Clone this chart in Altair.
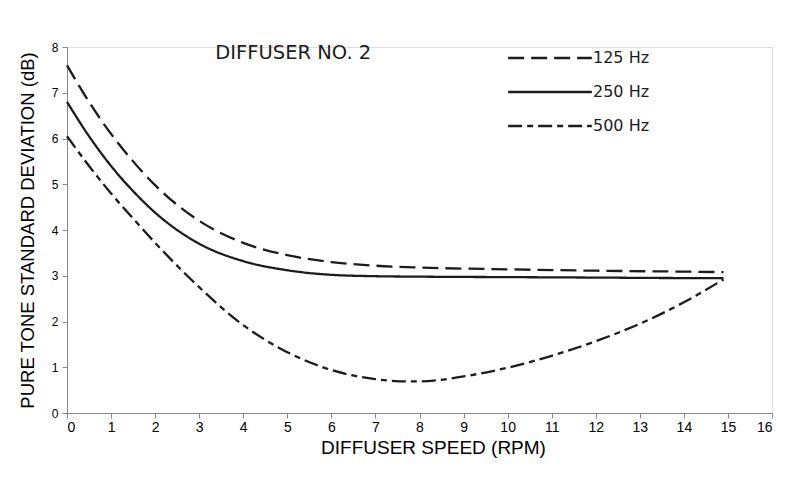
import altair as alt
import pandas as pd

# Data
series = ["125 Hz", "250 Hz", "500 Hz"]

x125 = [0, 0.5, 1, 1.5, 2, 3, 4, 5, 6, 7, 8, 10, 12, 14, 14.9]
y125 = [7.6, 6.8, 6.1, 5.5, 4.98, 4.2, 3.72, 3.45, 3.3, 3.22, 3.18, 3.14, 3.11, 3.09, 3.08]

x250 = [0, 0.5, 1, 1.5, 2, 3, 4, 5, 6, 7, 8, 10, 12, 14, 14.9]
y250 = [6.8, 6.05, 5.4, 4.85, 4.38, 3.7, 3.32, 3.12, 3.02, 2.99, 2.98, 2.97, 2.96, 2.95, 2.95]

x500 = [0, 0.5, 1, 1.5, 2, 3, 4, 5, 6, 7, 7.7, 8, 9, 10, 11, 12, 13, 14, 14.9]
y500 = [6.05, 5.4, 4.8, 4.25, 3.72, 2.75, 1.92, 1.33, 0.94, 0.74, 0.69, 0.69, 0.8, 0.99, 1.25, 1.57, 1.95, 2.42, 2.92]

xticks = list(range(0, 17))
yticks = list(range(0, 9))

rows = []
for name, xs, ys in [(series[0], x125, y125), (series[1], x250, y250), (series[2], x500, y500)]:
    for a, b in zip(xs, ys):
        rows.append({"series": name, "speed": a, "sd": b})
df = pd.DataFrame(rows)

FONT = "DejaVu Sans"
INK = "#1c1c1c"

chart = alt.Chart(df).mark_line(
    strokeWidth=2.3, color=INK, interpolate="monotone"
).encode(
    x=alt.X(
        "speed:Q",
        scale=alt.Scale(domain=[0, 16], nice=False, zero=False),
        axis=alt.Axis(
            values=xticks, title="DIFFUSER SPEED (RPM)", grid=False,
            labelFontSize=14, titleFontSize=19, titleFontWeight="normal",
            titlePadding=4, tickSize=5, labelPadding=2, titleX=366,
        ),
    ),
    y=alt.Y(
        "sd:Q",
        scale=alt.Scale(domain=[0, 8], nice=False),
        axis=alt.Axis(
            values=yticks, title="PURE TONE STANDARD DEVIATION (dB)", grid=False,
            labelFontSize=12, titleFontSize=18.5, titleFontWeight="normal",
            titlePadding=14, tickSize=5, labelPadding=4,
        ),
    ),
    strokeDash=alt.StrokeDash(
        "series:N",
        scale=alt.Scale(domain=series, range=[[16, 7], [1, 0], [14, 5, 6, 5]]),
        legend=alt.Legend(
            title=None, orient="none", legendX=440, legendY=-1,
            symbolType="stroke", symbolSize=7000, symbolStrokeWidth=2.3,
            symbolStrokeColor=INK, labelFontSize=16, labelColor=INK,
            labelFont=FONT, rowPadding=10, labelOffset=0, clipHeight=24,
        ),
    ),
).properties(
    width=705,
    height=366,
    title=alt.TitleParams(
        "DIFFUSER NO. 2", anchor="start", dx=197, dy=22, fontSize=19.5,
        fontWeight="normal", font=FONT, color=INK, offset=0,
    ),
    padding={"left": 59, "top": 39, "right": 5, "bottom": 56},
    autosize=alt.AutoSizeParams(type="none"),
).configure_view(
    stroke=None
).configure_axis(
    domainColor=INK, tickColor=INK, labelColor=INK, titleColor=INK,
    labelFont=FONT, titleFont=FONT, domainWidth=1.5, tickWidth=1.5,
).configure(background="white")

chart.save("out.html", embed_options={"renderer": "svg", "actions": False})
